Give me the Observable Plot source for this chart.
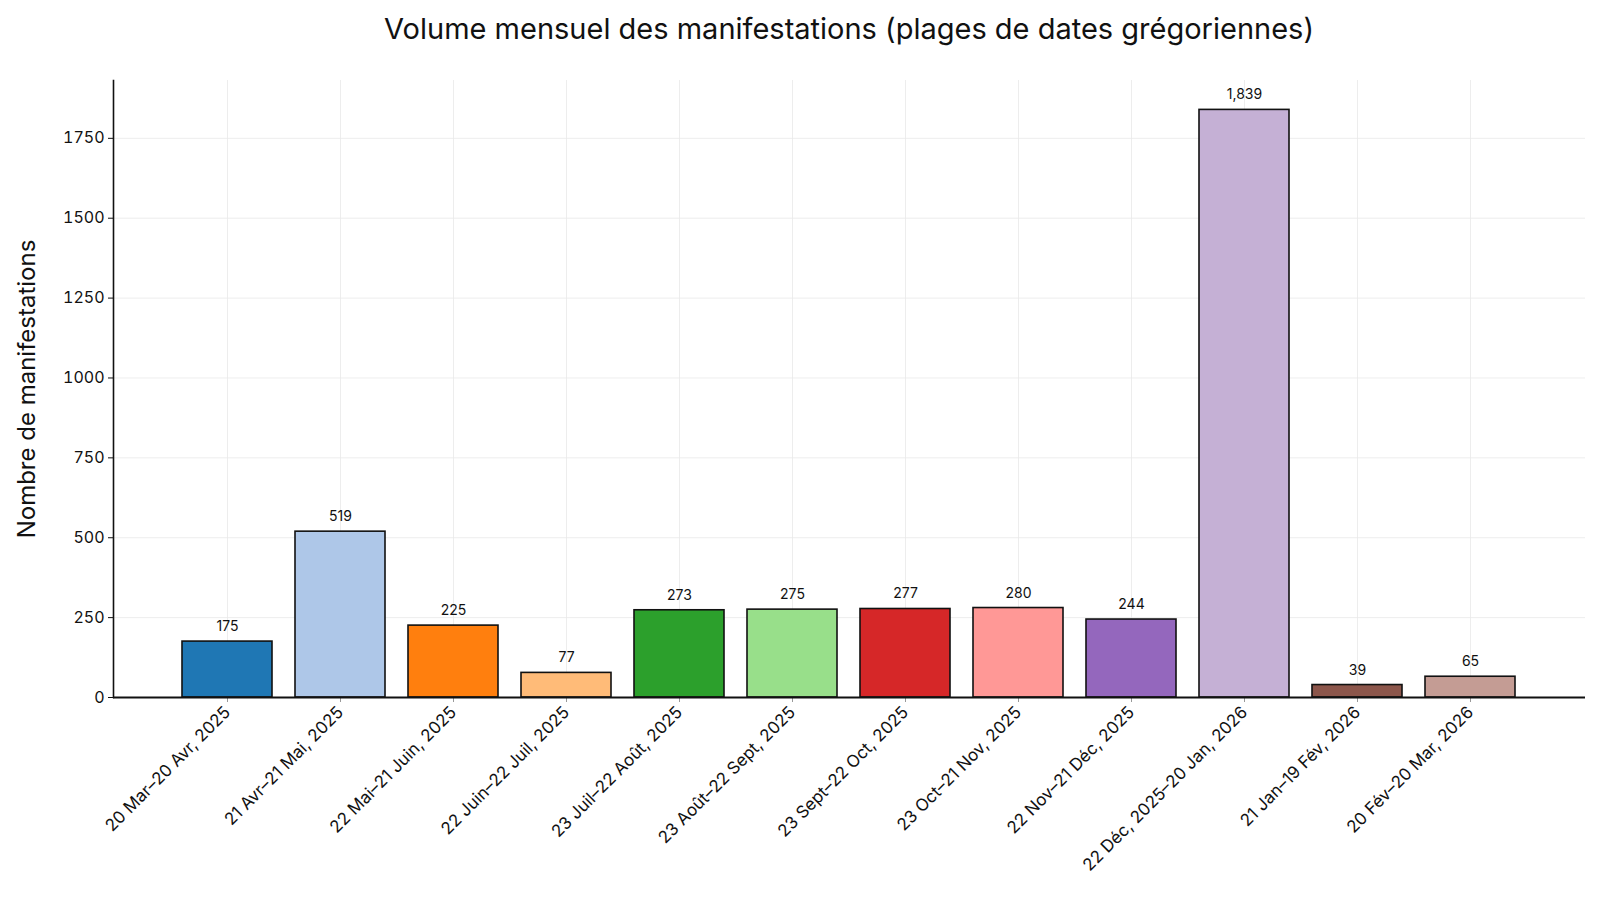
<!DOCTYPE html>
<html><head><meta charset="utf-8">
<script src="https://cdn.jsdelivr.net/npm/d3@7"></script>
<script src="https://cdn.jsdelivr.net/npm/@observablehq/plot@0.6"></script>
<style>
html,body{margin:0;padding:0;background:#fff;overflow:hidden;font-family:Inter,"Noto Sans",sans-serif;}
#title{height:60px;width:1600px;position:relative;}
#title div{position:absolute;left:113px;width:1472px;top:10px;text-align:center;font-size:29px;line-height:38px;color:#111;}
#chart svg{display:block;}
</style></head>
<body>
<div id="title"><div>Volume mensuel des manifestations (plages de dates grégoriennes)</div></div>
<div id="chart"></div>
<script>
const periods = ["20 Mar–20 Avr, 2025","21 Avr–21 Mai, 2025","22 Mai–21 Juin, 2025","22 Juin–22 Juil, 2025","23 Juil–22 Août, 2025","23 Août–22 Sept, 2025","23 Sept–22 Oct, 2025","23 Oct–21 Nov, 2025","22 Nov–21 Déc, 2025","22 Déc, 2025–20 Jan, 2026","21 Jan–19 Fév, 2026","20 Fév–20 Mar, 2026"];
const counts = [175,519,225,77,273,275,277,280,244,1839,39,65];
const colors = ["#1f77b4","#aec7e8","#ff7f0e","#ffbb78","#2ca02c","#98df8a","#d62728","#ff9896","#9467bd","#c5b0d5","#8c564b","#c49c94"];
const yTicks = [0,250,500,750,1000,1250,1500,1750];

const data = periods.map((p,i)=>({period:p,count:counts[i],color:colors[i]}));
const fmt = d3.format(",");

const chart = Plot.plot({
  width:1600, height:840,
  marginLeft:113, marginRight:15, marginTop:20, marginBottom:203,
  style:{fontFamily:"Inter, 'Noto Sans', sans-serif", fontSize:"16px", color:"#111", background:"#fff"},
  x:{domain:periods, paddingInner:0.2, paddingOuter:0.6, label:null},
  y:{domain:[0,1931], label:null},
  marks:[
    Plot.gridY(yTicks,{stroke:"#e8e8e8", strokeOpacity:1, strokeWidth:0.8}),
    Plot.gridX(periods,{stroke:"#e8e8e8", strokeOpacity:1, strokeWidth:0.8}),
    Plot.barY(data,{x:"period", y:"count", fill:"color", stroke:"#111", strokeWidth:1.6}),
    Plot.text(data,{x:"period", y:"count", text:d=>fmt(d.count), dy:-15, fontSize:14, fill:"#111"}),
    Plot.axisY({ticks:yTicks, tickSize:5, tickPadding:4, fontSize:16, tickFormat:d=>String(d)}),
    Plot.axisX({tickRotate:-45, tickSize:5, tickPadding:7, fontSize:17, stroke:"#999"}),
    Plot.ruleY([0],{stroke:"#111", strokeWidth:1.8}),
    Plot.frame({anchor:"left", stroke:"#111", strokeWidth:1.6}),
    Plot.text(["Nombre de manifestations"],{frameAnchor:"left", textAnchor:"middle", dx:-86, rotate:-90, fontSize:24, fill:"#111"})
  ]
});
document.getElementById("chart").appendChild(chart);
</script>
</body></html>
